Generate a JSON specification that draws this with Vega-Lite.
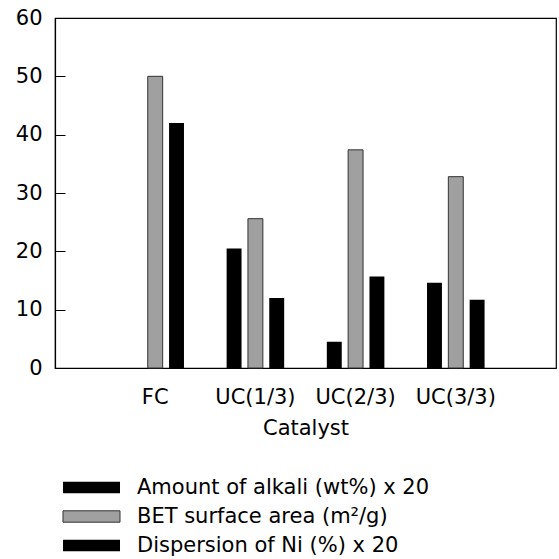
{
  "$schema": "https://vega.github.io/schema/vega-lite/v6.json",
  "width": 501,
  "height": 350,
  "autosize": {"type": "none"},
  "padding": {"left": 55, "top": 18, "right": 3, "bottom": 191},
  "background": "white",
  "config": {
    "font": "DejaVu Sans",
    "view": {"stroke": "#000000", "strokeWidth": 1.2},
    "axis": {"domainColor": "#000000", "tickColor": "#000000", "labelColor": "#000000", "titleColor": "#000000", "grid": false, "labelFont": "DejaVu Sans", "titleFont": "DejaVu Sans", "labelFontSize": 21, "titleFontSize": 21, "titleFontWeight": "normal"}
  },
  "data": {
    "values": [
      {"catalyst": "FC", "series": "Amount of alkali (wt%) x 20", "value": 0},
      {"catalyst": "FC", "series": "BET surface area (m²/g)", "value": 50},
      {"catalyst": "FC", "series": "Dispersion of Ni (%) x 20", "value": 42},
      {"catalyst": "UC(1/3)", "series": "Amount of alkali (wt%) x 20", "value": 20.5},
      {"catalyst": "UC(1/3)", "series": "BET surface area (m²/g)", "value": 25.6},
      {"catalyst": "UC(1/3)", "series": "Dispersion of Ni (%) x 20", "value": 12},
      {"catalyst": "UC(2/3)", "series": "Amount of alkali (wt%) x 20", "value": 4.5},
      {"catalyst": "UC(2/3)", "series": "BET surface area (m²/g)", "value": 37.4},
      {"catalyst": "UC(2/3)", "series": "Dispersion of Ni (%) x 20", "value": 15.7},
      {"catalyst": "UC(3/3)", "series": "Amount of alkali (wt%) x 20", "value": 14.6},
      {"catalyst": "UC(3/3)", "series": "BET surface area (m²/g)", "value": 32.8},
      {"catalyst": "UC(3/3)", "series": "Dispersion of Ni (%) x 20", "value": 11.7}
    ]
  },
  "mark": {"type": "bar", "strokeWidth": 1},
  "encoding": {
    "x": {
      "field": "catalyst", "type": "nominal", "sort": null, "title": "Catalyst",
      "scale": {"paddingInner": 0, "paddingOuter": 0.5},
      "axis": {"labelAngle": 0, "ticks": false, "domain": false, "labelPadding": 18, "titlePadding": 10}
    },
    "xOffset": {
      "field": "series", "type": "nominal", "sort": null,
      "scale": {"paddingInner": 0.3, "paddingOuter": 1.15}
    },
    "y": {
      "field": "value", "type": "quantitative", "title": null,
      "scale": {"domain": [0, 60], "nice": false},
      "axis": {"values": [0, 10, 20, 30, 40, 50, 60], "tickSize": -10, "labelPadding": 23, "domainWidth": 1.2}
    },
    "color": {
      "field": "series", "type": "nominal", "sort": null,
      "scale": {"domain": ["Amount of alkali (wt%) x 20", "BET surface area (m²/g)", "Dispersion of Ni (%) x 20"], "range": ["#000000", "#a0a0a0", "#000000"]},
      "legend": {
        "title": null, "orient": "none", "legendX": 26, "legendY": 459,
        "symbolType": "M-5,-1H5V1H-5Z", "symbolSize": 130,
        "symbolStrokeColor": "#000000", "symbolStrokeWidth": 1, "symbolOpacity": 1,
        "labelFont": "DejaVu Sans", "labelFontSize": 21, "labelColor": "#000000",
        "labelOffset": 35, "rowPadding": 7, "labelLimit": 400
      }
    },
    "stroke": {
      "field": "series", "type": "nominal", "sort": null,
      "scale": {"domain": ["Amount of alkali (wt%) x 20", "BET surface area (m²/g)", "Dispersion of Ni (%) x 20"], "range": ["#00000000", "#333333", "#00000000"]},
      "legend": null
    },
    "opacity": {"value": 1}
  }
}
